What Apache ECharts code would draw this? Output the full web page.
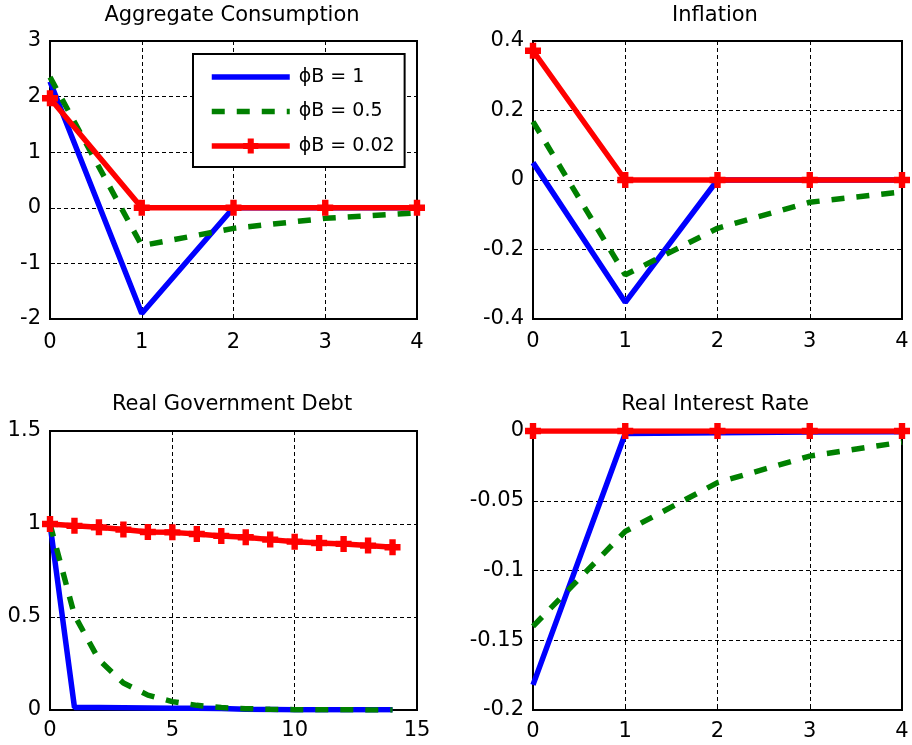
<!DOCTYPE html>
<html>
<head>
<meta charset="utf-8">
<title>Impulse responses</title>
<script src="https://cdn.jsdelivr.net/npm/echarts@6/dist/echarts.min.js"></script>
<style>
  html, body { margin: 0; padding: 0; background: #fff; }
  #chart { width: 912px; height: 745px; }
</style>
</head>
<body>
<div id="chart"></div>
<script>
// Series names (legend)
const seriesNames = ['ϕB = 1', 'ϕB = 0.5', 'ϕB = 0.02'];
const panelTitles = ['Aggregate Consumption', 'Inflation', 'Real Government Debt', 'Real Interest Rate'];

// Horizons
const periodsShort = [0, 1, 2, 3, 4];
const periodsLong = [0, 1, 2, 3, 4, 5, 6, 7, 8, 9, 10, 11, 12, 13, 14];

// Aggregate consumption
const consumptionPhi1 = [2.27, -1.9, 0, 0, 0];
const consumptionPhi05 = [2.35, -0.68, -0.37, -0.19, -0.09];
const consumptionPhi002 = [1.97, 0, 0, 0, 0];

// Inflation
const inflationPhi1 = [0.05, -0.352, 0, 0, 0];
const inflationPhi05 = [0.168, -0.273, -0.139, -0.064, -0.034];
const inflationPhi002 = [0.372, 0, 0, 0, 0];

// Real government debt
const debtPhi1 = [1, 0.014, 0.013, 0.012, 0.011, 0.01, 0.009, 0.008, 0.004, 0.003, 0.002, 0.002, 0.001, 0.001, 0.001];
const debtPhi05 = [1, 0.51, 0.27, 0.145, 0.08, 0.045, 0.025, 0.013, 0.007, 0.004, 0.002, 0.001, 0.001, 0.0005, 0.0003];
const debtPhi002 = [1, 0.99, 0.982, 0.97, 0.957, 0.955, 0.946, 0.936, 0.929, 0.916, 0.905, 0.898, 0.893, 0.884, 0.875];

// Real interest rate
const ratePhi1 = [-0.182, -0.0018, -0.0012, -0.0008, -0.0005];
const ratePhi05 = [-0.14, -0.072, -0.037, -0.018, -0.008];
const ratePhi002 = [0, 0, 0, 0, 0];

// Axis ranges: [min, max, interval]
const xRanges = [[0, 4, 1], [0, 4, 1], [0, 15, 5], [0, 4, 1]];
const yRanges = [[-2, 3, 1], [-0.4, 0.4, 0.2], [0, 1.5, 0.5], [-0.2, 0, 0.05]];

const FONT = 'DejaVu Sans';
const colors = ['#0000ff', '#008000', '#ff0000'];
const plusMarker = 'path://M3,0H7V3H10V7H7V10H3V7H0V3H3Z';
const LINE_W = 5.5;

const grids = [
  { left: 50, top: 41, width: 367, height: 278 },
  { left: 533, top: 41, width: 369, height: 278 },
  { left: 50, top: 431, width: 367, height: 279 },
  { left: 533, top: 431, width: 369, height: 279 }
];
const titleCenters = [[232, 5], [715, 5], [232, 394], [715, 394]];
const xLabelMargins = [13, 12, 10, 11];

const panelData = [
  [periodsShort, [consumptionPhi1, consumptionPhi05, consumptionPhi002]],
  [periodsShort, [inflationPhi1, inflationPhi05, inflationPhi002]],
  [periodsLong, [debtPhi1, debtPhi05, debtPhi002]],
  [periodsShort, [ratePhi1, ratePhi05, ratePhi002]]
];

function pairs(xs, ys) {
  return xs.map((x, i) => [x, ys[i]]);
}

function cleanNum(v) {
  return String(parseFloat(v.toFixed(4)));
}

const gridSpline = { show: true, lineStyle: { color: '#000', width: 1, type: [4, 3] } };
const tickStyle = { show: true, inside: true, length: 5, lineStyle: { color: '#000', width: 1 } };
const labelStyle = { color: '#000', fontFamily: FONT, fontSize: 21 };

const xAxes = xRanges.map((r, i) => ({
  type: 'value', gridIndex: i, min: r[0], max: r[1], interval: r[2],
  axisLine: { show: true, onZero: false, lineStyle: { color: '#000', width: 2 } },
  axisTick: tickStyle,
  splitLine: gridSpline,
  axisLabel: Object.assign({ margin: xLabelMargins[i], formatter: cleanNum }, labelStyle)
}));
const yAxes = yRanges.map((r, i) => ({
  type: 'value', gridIndex: i, min: r[0], max: r[1], interval: r[2],
  axisLine: { show: true, onZero: false, lineStyle: { color: '#000', width: 2 } },
  axisTick: tickStyle,
  splitLine: gridSpline,
  axisLabel: Object.assign({ margin: 9, formatter: cleanNum }, labelStyle)
}));

const series = [];
panelData.forEach((panel, p) => {
  const xs = panel[0];
  panel[1].forEach((ys, s) => {
    const base = {
      type: 'line', name: seriesNames[s], xAxisIndex: p, yAxisIndex: p,
      data: pairs(xs, ys), animation: false, clip: true, z: 3 + s,
      color: colors[s]
    };
    if (s === 0) {
      base.symbol = 'none';
      base.lineStyle = { color: colors[0], width: LINE_W };
    } else if (s === 1) {
      base.symbol = 'none';
      base.lineStyle = { color: colors[1], width: LINE_W, type: [13, 12] };
    } else {
      base.symbol = plusMarker;
      base.symbolSize = 16;
      base.itemStyle = { color: colors[2] };
      base.lineStyle = { color: colors[2], width: LINE_W };
    }
    series.push(base);
  });
});

const chart = echarts.init(document.getElementById('chart'), null, { renderer: 'canvas' });
chart.setOption({
  backgroundColor: '#fff',
  animation: false,
  title: panelTitles.map((t, i) => ({
    text: t, left: titleCenters[i][0], top: titleCenters[i][1], textAlign: 'center', padding: 0,
    textStyle: { color: '#000', fontFamily: FONT, fontSize: 21, fontWeight: 'normal' }
  })),
  legend: {
    data: [
      { name: seriesNames[0], itemStyle: { opacity: 0 } },
      { name: seriesNames[1], itemStyle: { opacity: 0 } },
      { name: seriesNames[2] }
    ],
    orient: 'vertical', left: 193, top: 54,
    padding: [13, 10, 11, 16], itemWidth: 78, itemHeight: 19, itemGap: 14.5,
    lineStyle: { width: LINE_W },
    backgroundColor: '#fff', borderColor: '#000', borderWidth: 2, borderRadius: 0,
    textStyle: { color: '#000', fontFamily: FONT, fontSize: 19, lineHeight: 20, padding: [0, 0, 0, 4] },
    selectedMode: false, z: 10
  },
  grid: grids.map(g => Object.assign({ show: true, borderColor: '#000', borderWidth: 2, backgroundColor: '#fff' }, g)),
  xAxis: xAxes,
  yAxis: yAxes,
  series: series
});
</script>
</body>
</html>
